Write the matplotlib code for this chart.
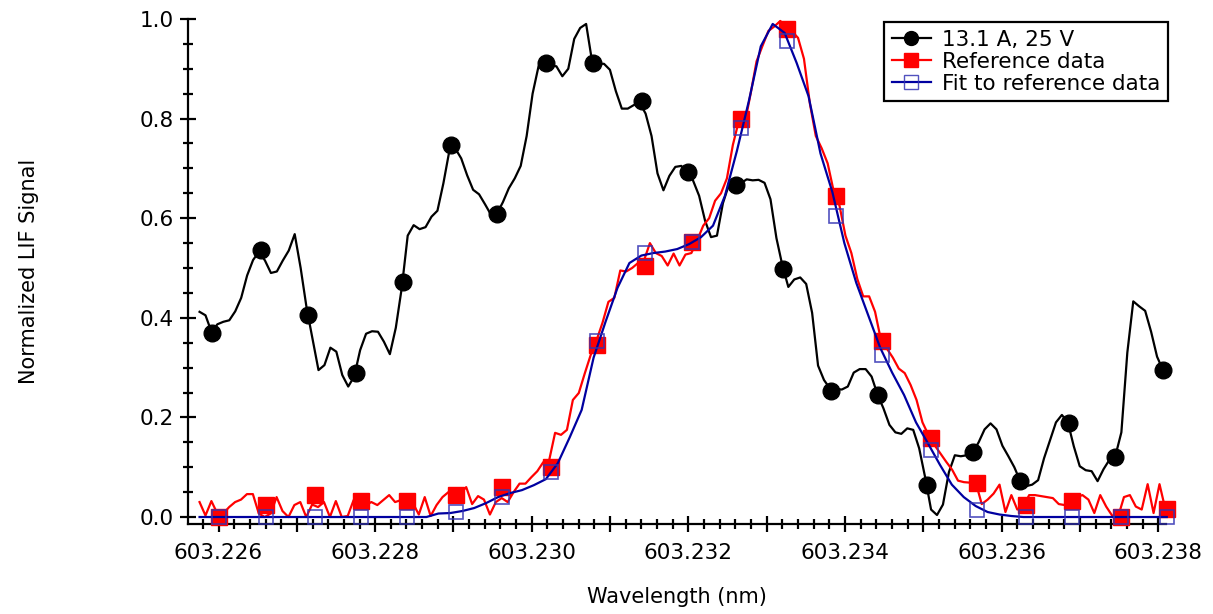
import numpy as np
import matplotlib
matplotlib.use("Agg")
import matplotlib.pyplot as plt
from matplotlib.lines import Line2D
from matplotlib.ticker import MultipleLocator, FuncFormatter

# ---- data (wavelength in nm, normalized LIF signal) ----

# 13.1 A, 25 V run: scan grid and trace
wl_run = np.linspace(603.2257573, 603.2380610, 163)
sig_run = [0.412, 0.405, 0.372, 0.387, 0.392, 0.395, 0.413, 0.440, 0.485, 0.516,
           0.533, 0.515, 0.490, 0.493, 0.515, 0.535, 0.568, 0.500, 0.420, 0.357,
           0.295, 0.305, 0.340, 0.332, 0.285, 0.262, 0.282, 0.335, 0.368, 0.373,
           0.372, 0.352, 0.327, 0.380, 0.460, 0.565, 0.586, 0.578, 0.582, 0.603,
           0.615, 0.670, 0.735, 0.740, 0.720, 0.686, 0.657, 0.648, 0.628, 0.607,
           0.609, 0.632, 0.660, 0.680, 0.705, 0.765, 0.850, 0.905, 0.910, 0.906,
           0.905, 0.885, 0.900, 0.960, 0.982, 0.990, 0.915, 0.910, 0.910, 0.898,
           0.855, 0.820, 0.820, 0.827, 0.832, 0.810, 0.765, 0.690, 0.656, 0.685,
           0.703, 0.705, 0.693, 0.675, 0.645, 0.595, 0.562, 0.565, 0.630, 0.667,
           0.668, 0.670, 0.678, 0.676, 0.677, 0.671, 0.638, 0.560, 0.505, 0.462,
           0.477, 0.481, 0.468, 0.410, 0.304, 0.275, 0.258, 0.257, 0.256, 0.262,
           0.290, 0.297, 0.297, 0.282, 0.246, 0.218, 0.185, 0.170, 0.167, 0.178,
           0.175, 0.138, 0.080, 0.015, 0.004, 0.025, 0.090, 0.124, 0.122, 0.124,
           0.130, 0.150, 0.176, 0.188, 0.176, 0.143, 0.122, 0.100, 0.072, 0.062,
           0.065, 0.074, 0.118, 0.154, 0.190, 0.205, 0.190, 0.142, 0.102, 0.094,
           0.092, 0.072, 0.096, 0.115, 0.123, 0.170, 0.330, 0.433, 0.423, 0.414,
           0.372, 0.322, 0.295]

# marker points of the run
wl_run_pts = [603.225920, 603.226545, 603.227140, 603.227759, 603.228354,
              603.228972, 603.229559, 603.230185, 603.230780, 603.231406,
              603.231994, 603.232612, 603.233207, 603.233825, 603.234420,
              603.235046, 603.235633, 603.236230, 603.236856, 603.237443,
              603.238060]
sig_run_pts = [0.369, 0.537, 0.406, 0.289, 0.471, 0.747, 0.609, 0.911, 0.911, 0.835,
               0.693, 0.666, 0.498, 0.254, 0.244, 0.064, 0.130, 0.073, 0.188, 0.121,
               0.295]

# reference data trace
wl_ref = np.linspace(603.2257573, 603.2380920, 164)
sig_ref = [0.030, 0.003, 0.032, 0.007, 0.007, 0.020, 0.030, 0.035, 0.046, 0.046,
           0.007, 0.000, 0.007, 0.040, 0.012, 0.000, 0.024, 0.030, 0.000, 0.025,
           0.020, 0.030, 0.000, 0.032, 0.000, 0.002, 0.034, 0.030, 0.024, 0.030,
           0.024, 0.034, 0.044, 0.030, 0.034, 0.020, 0.028, 0.005, 0.040, 0.002,
           0.024, 0.040, 0.050, 0.050, 0.047, 0.060, 0.026, 0.042, 0.035, 0.005,
           0.030, 0.038, 0.030, 0.050, 0.067, 0.067, 0.080, 0.092, 0.110, 0.114,
           0.169, 0.165, 0.175, 0.235, 0.249, 0.288, 0.325, 0.355, 0.390, 0.432,
           0.440, 0.495, 0.493, 0.500, 0.510, 0.515, 0.550, 0.530, 0.524, 0.505,
           0.529, 0.505, 0.527, 0.530, 0.556, 0.585, 0.600, 0.635, 0.650, 0.680,
           0.747, 0.795, 0.790, 0.850, 0.915, 0.946, 0.976, 0.985, 0.996, 0.984,
           0.975, 0.962, 0.920, 0.830, 0.765, 0.740, 0.710, 0.655, 0.625, 0.565,
           0.530, 0.478, 0.443, 0.443, 0.412, 0.355, 0.338, 0.320, 0.298, 0.289,
           0.265, 0.235, 0.190, 0.165, 0.145, 0.128, 0.111, 0.095, 0.073, 0.070,
           0.069, 0.069, 0.026, 0.035, 0.047, 0.065, 0.010, 0.044, 0.015, 0.020,
           0.044, 0.044, 0.042, 0.040, 0.038, 0.026, 0.024, 0.020, 0.040, 0.044,
           0.035, 0.008, 0.044, 0.021, 0.003, 0.000, 0.040, 0.044, 0.021, 0.015,
           0.066, 0.008, 0.066, 0.015]

# fit to the reference data
wl_fit = np.linspace(603.2257573, 603.2381090, 82)
sig_fit = [0.0] * 20 + [
    0.007, 0.008, 0.012, 0.018, 0.028, 0.040, 0.048, 0.054, 0.064, 0.076,
    0.108, 0.160, 0.215, 0.320, 0.392, 0.460, 0.510, 0.525, 0.530, 0.533,
    0.538, 0.548, 0.562, 0.585, 0.645, 0.735, 0.835, 0.945, 0.990, 0.972,
    0.912, 0.845, 0.730, 0.652, 0.550, 0.470, 0.405, 0.340, 0.290, 0.245,
    0.190, 0.148, 0.105, 0.065, 0.040, 0.022, 0.010, 0.005, 0.002] + [0.0] * 13

# marker points of reference and fit
wl_pts = [603.226004, 603.226600, 603.227226, 603.227822, 603.228410,
          603.229027, 603.229623, 603.230240, 603.230837, 603.231450,
          603.232050, 603.232676, 603.233263, 603.233889, 603.234476,
          603.235102, 603.235690, 603.236315, 603.236903, 603.237529,
          603.238116]
ref_pts = [0.0, 0.024, 0.044, 0.033, 0.033, 0.044, 0.060, 0.101, 0.346, 0.505,
           0.553, 0.799, 0.979, 0.645, 0.353, 0.158, 0.069, 0.024, 0.032, 0.0,
           0.017]
fit_pts = [0.0, 0.0, 0.0, 0.0, 0.0, 0.011, 0.041, 0.091, 0.353, 0.531,
           0.553, 0.782, 0.955, 0.604, 0.325, 0.135, 0.014, 0.0, 0.0, 0.0,
           0.0]

labels = ["13.1 A, 25 V", "Reference data", "Fit to reference data"]

# ---- plot ----
plt.rcParams['font.family'] = ['DejaVu Sans']
fs = 15.5

fig = plt.figure(figsize=(12.13, 6.14), dpi=100)
ax = fig.add_axes([0.155, 0.1466, 0.8063, 0.8225])

blue = '#0000a0'
sq_edge = (0.2, 0.2, 0.7, 0.85)

ax.plot(wl_run, sig_run, color='black', lw=1.6, zorder=2, clip_on=False)
ax.plot(wl_run_pts, sig_run_pts, 'o', color='black', ms=12, zorder=3, clip_on=False)
ax.plot(wl_ref, sig_ref, color='red', lw=1.6, zorder=4, clip_on=False)
ax.plot(wl_pts, ref_pts, 's', color='red', ms=11, mec='red', zorder=5, clip_on=False)
ax.plot(wl_fit, sig_fit, color=blue, lw=1.6, zorder=6, clip_on=False)
ax.plot(wl_pts, fit_pts, 's', mfc='none', mec=sq_edge, mew=1.2, ms=10.5, zorder=7,
        clip_on=False)

ax.set_xlim(603.22561, 603.23810)
ax.set_ylim(-0.014, 1.0)

ax.spines['top'].set_visible(False)
ax.spines['right'].set_visible(False)
ax.spines['left'].set_linewidth(1.6)
ax.spines['bottom'].set_linewidth(1.6)

ax.xaxis.set_major_locator(MultipleLocator(0.001))
ax.xaxis.set_minor_locator(MultipleLocator(0.0002))
ax.xaxis.set_major_formatter(FuncFormatter(
    lambda v, p: f"{v:.3f}" if round(v * 1000) % 2 == 0 else ""))
ax.yaxis.set_major_locator(MultipleLocator(0.2))
ax.yaxis.set_minor_locator(MultipleLocator(0.05))
ax.yaxis.set_major_formatter(FuncFormatter(lambda v, p: f"{v:.1f}"))

ax.tick_params(which='major', direction='inout', length=12, width=1.6, labelsize=fs)
ax.tick_params(which='minor', direction='inout', length=6.5, width=1.6)
ax.tick_params(axis='x', which='major', pad=8)
ax.tick_params(axis='y', which='major', pad=4)

ax.set_xlabel("Wavelength (nm)", fontsize=15)
ax.set_ylabel("Normalized LIF Signal", fontsize=15)
ax.xaxis.set_label_coords(0.5, -0.125)
ax.yaxis.set_label_coords(-0.152, 0.5)

handles = [
    Line2D([], [], color='black', lw=1.6, marker='o', ms=10),
    Line2D([], [], color='red', lw=1.6, marker='s', ms=10),
    Line2D([], [], color=blue, lw=1.6, marker='s', ms=10, mfc='none', mec=sq_edge),
]
leg = ax.legend(handles, labels, loc='upper right', bbox_to_anchor=(1.002, 0.994),
                borderaxespad=0, fontsize=fs, frameon=True, fancybox=False,
                framealpha=1, edgecolor='black', handlelength=1.85,
                handletextpad=0.5, labelspacing=0.1, borderpad=0.35)
leg.get_frame().set_linewidth(1.6)

fig.savefig('out.png', dpi=100)
